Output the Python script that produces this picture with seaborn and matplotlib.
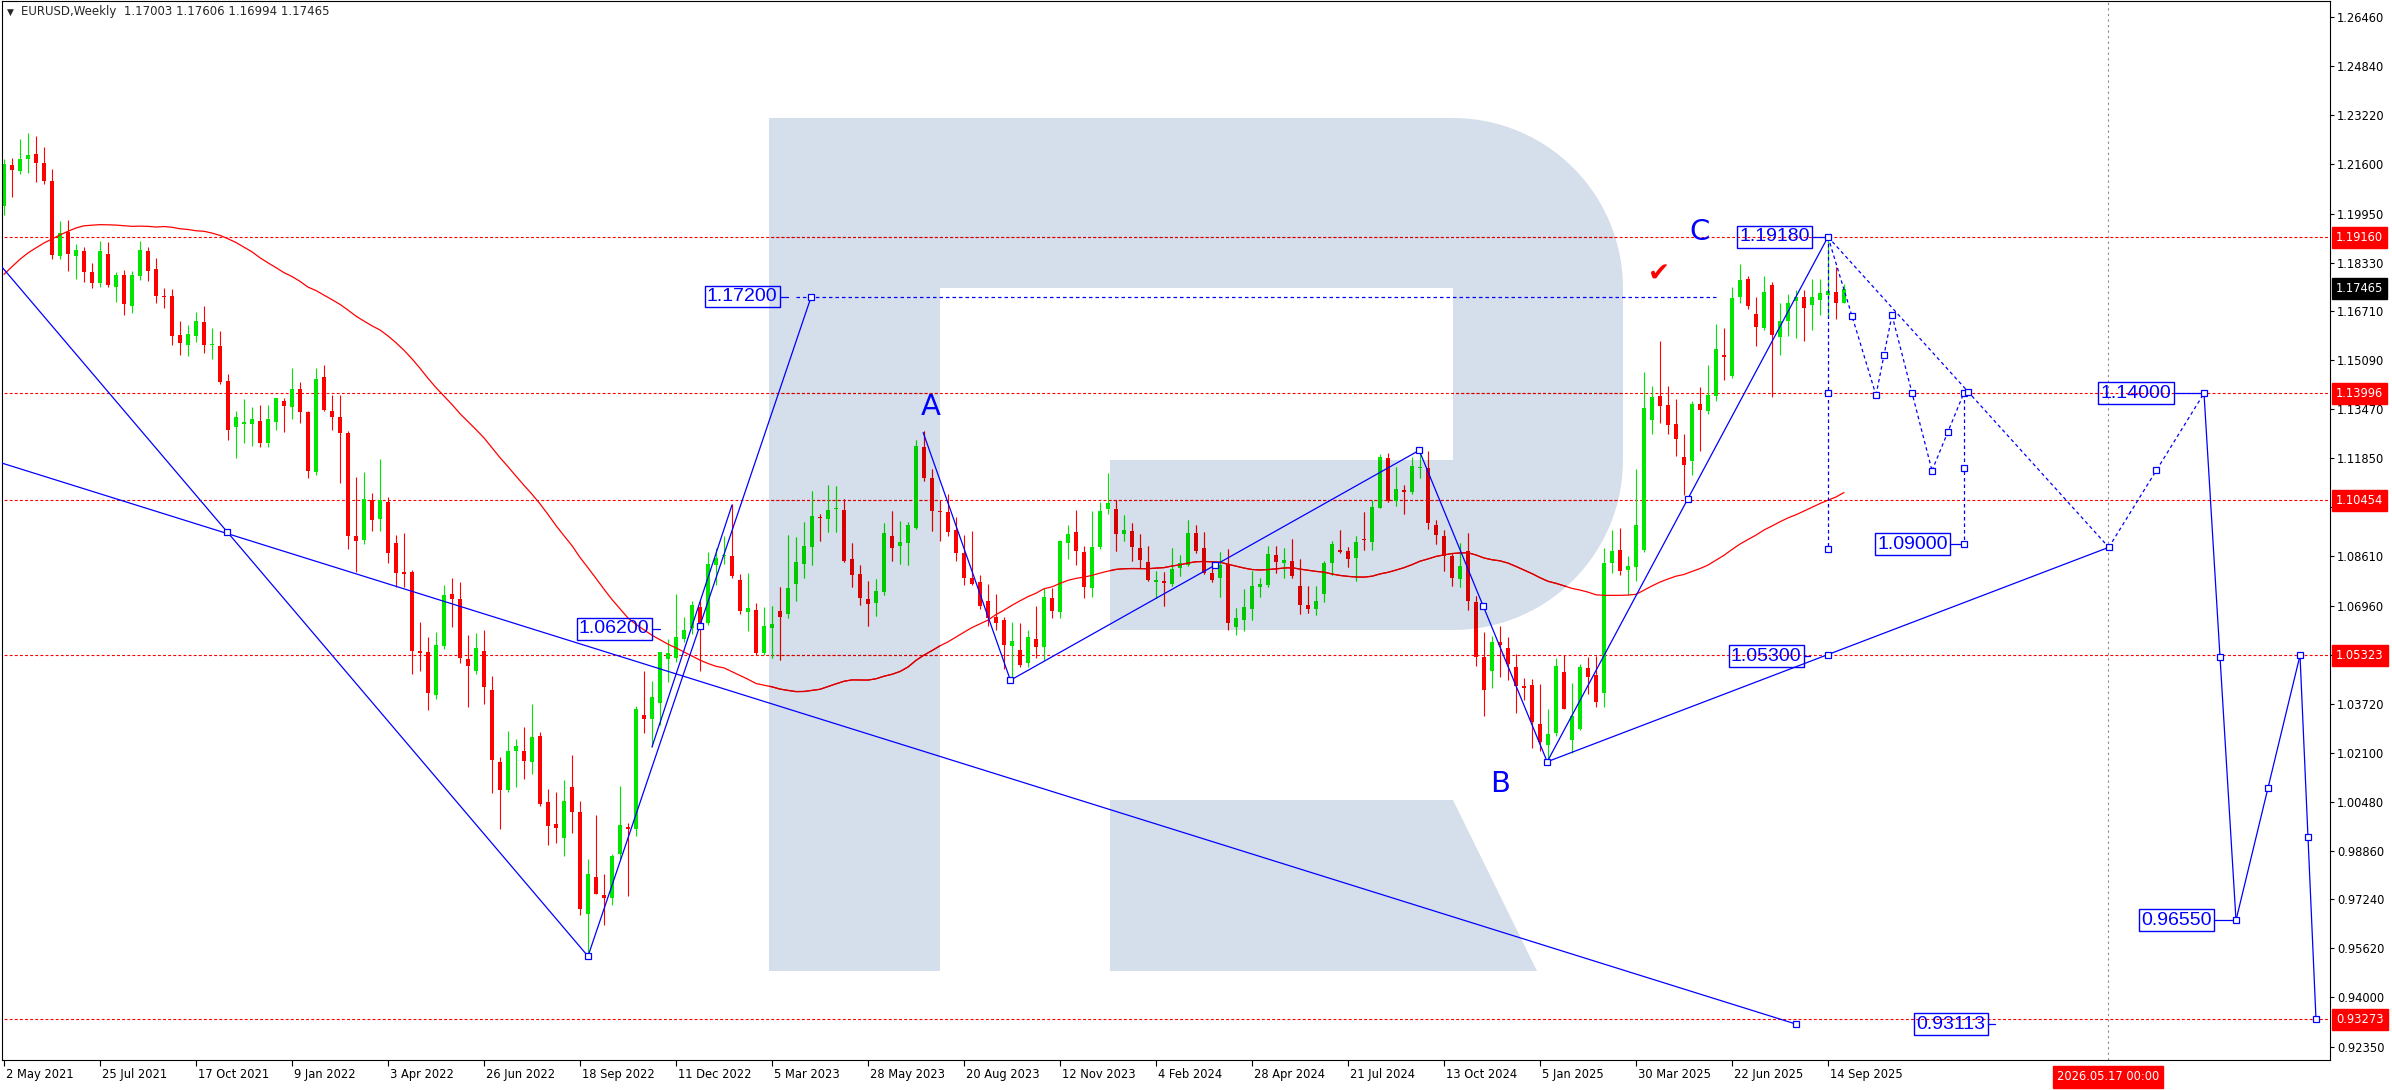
import numpy as np
import pandas as pd
import matplotlib
matplotlib.use('Agg')
import matplotlib.pyplot as plt
import matplotlib.transforms as mtrans
from matplotlib.path import Path
from matplotlib.patches import PathPatch
import seaborn as sns

# ---------------- data ----------------
# weekly EURUSD candles, week 0 = 2 May 2021
opens = [
    1.2020, 1.2155, 1.2135, 1.2175, 1.2192, 1.2162, 1.2103, 1.1855, 1.1935, 1.1855,
    1.1872, 1.1802, 1.1765, 1.1862, 1.1752, 1.1793, 1.1690, 1.1790, 1.1872, 1.1812,
    1.1722, 1.1723, 1.1592, 1.1559, 1.1590, 1.1636, 1.1559, 1.1557, 1.1441, 1.1287,
    1.1300, 1.1298, 1.1308, 1.1235, 1.1306, 1.1374, 1.1355, 1.1414, 1.1337, 1.1139,
    1.1455, 1.1341, 1.1322, 1.1268, 1.0928, 1.0915, 1.1048, 1.0984, 1.1041, 1.0904,
    1.0808, 1.0808, 1.0546, 1.0544, 1.0401, 1.0562, 1.0737, 1.0718, 1.0519, 1.0480,
    1.0548, 1.0419, 1.0179, 1.0086, 1.0215, 1.0215, 1.0179, 1.0264, 1.0047, 0.9973,
    0.9929, 1.0096, 1.0015, 0.9676, 0.9800, 0.9739, 0.9729, 0.9876, 0.9965, 0.9958,
    1.0336, 1.0322, 1.0375, 1.0520, 1.0522, 1.0586, 1.0622, 1.0691, 1.0640, 1.0832,
    1.0861, 1.0861, 1.0782, 1.0677, 1.0682, 1.0541, 1.0622, 1.0680, 1.0668, 1.0767,
    1.0836, 1.0892, 1.0990, 1.0985, 1.1017, 1.1014, 1.0850, 1.0802, 1.0718, 1.0705,
    1.0743, 1.0927, 1.0894, 1.0905, 1.0955, 1.1221, 1.1118, 1.1010, 1.1006, 1.0947,
    1.0870, 1.0790, 1.0774, 1.0712, 1.0658, 1.0649, 1.0563, 1.0550, 1.0506, 1.0588,
    1.0561, 1.0723, 1.0675, 1.0905, 1.0940, 1.0873, 1.0754, 1.0892, 1.1017, 1.1017,
    1.0934, 1.0944, 1.0889, 1.0841, 1.0776, 1.0779, 1.0770, 1.0823, 1.0832, 1.0938,
    1.0887, 1.0805, 1.0787, 1.0835, 1.0627, 1.0649, 1.0686, 1.0758, 1.0765, 1.0865,
    1.0839, 1.0845, 1.0762, 1.0699, 1.0685, 1.0737, 1.0838, 1.0881, 1.0878, 1.0853,
    1.0917, 1.0909, 1.1021, 1.1185, 1.1043, 1.1080, 1.1072, 1.1154, 1.1152, 1.0964,
    1.0929, 1.0861, 1.0785, 1.0878, 1.0710, 1.0528, 1.0479, 1.0577, 1.0557, 1.0495,
    1.0431, 1.0434, 1.0306, 1.0235, 1.0276, 1.0478, 1.0252, 1.0290, 1.0489, 1.0468,
    1.0406, 1.0837, 1.0881, 1.0816, 1.0826, 1.0881, 1.1312, 1.1391, 1.1360, 1.1298,
    1.1190, 1.1177, 1.1364, 1.1341, 1.1391, 1.1528, 1.1456, 1.1720, 1.1780, 1.1661,
    1.1617, 1.1757, 1.1586, 1.1641, 1.1705, 1.1720, 1.1692, 1.1710, 1.1727, 1.1736,
    1.17003]

highs = [
    1.2175, 1.2180, 1.2243, 1.2263, 1.2252, 1.2216, 1.2143, 1.1972, 1.1975, 1.1895,
    1.1885, 1.1830, 1.1905, 1.1900, 1.1800, 1.1808, 1.1805, 1.1905, 1.1885, 1.1848,
    1.1750, 1.1745, 1.1640, 1.1625, 1.1668, 1.1690, 1.1617, 1.1607, 1.1464, 1.1340,
    1.1382, 1.1355, 1.1360, 1.1360, 1.1386, 1.1386, 1.1484, 1.1437, 1.1343, 1.1484,
    1.1495, 1.1395, 1.1395, 1.1274, 1.1124, 1.1140, 1.1070, 1.1184, 1.1055, 1.0932,
    1.0936, 1.0815, 1.0644, 1.0594, 1.0608, 1.0765, 1.0789, 1.0774, 1.0601, 1.0606,
    1.0615, 1.0465, 1.0197, 1.0282, 1.0254, 1.0296, 1.0372, 1.0277, 1.0090, 1.0079,
    1.0118, 1.0203, 1.0051, 0.9857, 1.0005, 0.9809, 0.9874, 1.0100, 0.9976, 1.0364,
    1.0482, 1.0449, 1.0545, 1.0587, 1.0736, 1.0658, 1.0713, 1.0713, 1.0874, 1.0888,
    1.0929, 1.1034, 1.0801, 1.0804, 1.0706, 1.0692, 1.0695, 1.0760, 1.0930, 1.0925,
    1.0973, 1.1075, 1.1000, 1.1095, 1.1092, 1.1050, 1.0903, 1.0830, 1.0779, 1.0785,
    1.0970, 1.1010, 1.0976, 1.0975, 1.1245, 1.1276, 1.1149, 1.1046, 1.1065, 1.0990,
    1.0930, 1.0945, 1.0800, 1.0769, 1.0737, 1.0659, 1.0642, 1.0640, 1.0617, 1.0695,
    1.0756, 1.0756, 1.0915, 1.0965, 1.1013, 1.0894, 1.1009, 1.1040, 1.1135, 1.1046,
    1.0998, 1.0970, 1.0933, 1.0895, 1.0810, 1.0807, 1.0888, 1.0866, 1.0981, 1.0964,
    1.0942, 1.0843, 1.0876, 1.0885, 1.0690, 1.0753, 1.0812, 1.0790, 1.0895, 1.0895,
    1.0889, 1.0916, 1.0852, 1.0761, 1.0761, 1.0845, 1.0910, 1.0948, 1.0890, 1.0926,
    1.1008, 1.1047, 1.1200, 1.1202, 1.1155, 1.1095, 1.1190, 1.1212, 1.1209, 1.0980,
    1.0946, 1.0870, 1.0905, 1.0937, 1.0728, 1.0610, 1.0597, 1.0630, 1.0594, 1.0536,
    1.0457, 1.0455, 1.0437, 1.0354, 1.0522, 1.0533, 1.0442, 1.0505, 1.0528, 1.0529,
    1.0889, 1.0947, 1.0955, 1.0860, 1.1148, 1.1471, 1.1425, 1.1573, 1.1425, 1.1380,
    1.1265, 1.1375, 1.1420, 1.1495, 1.1631, 1.1615, 1.1753, 1.1829, 1.1790, 1.1720,
    1.1789, 1.1770, 1.1700, 1.1730, 1.1742, 1.1743, 1.1780, 1.1780, 1.1918, 1.1819,
    1.17606]

lows = [
    1.1990, 1.2050, 1.2125, 1.2130, 1.2100, 1.2092, 1.1845, 1.1845, 1.1805, 1.1780,
    1.1768, 1.1750, 1.1752, 1.1752, 1.1702, 1.1660, 1.1665, 1.1775, 1.1772, 1.1700,
    1.1682, 1.1560, 1.1527, 1.1525, 1.1570, 1.1535, 1.1513, 1.1432, 1.1245, 1.1185,
    1.1235, 1.1226, 1.1222, 1.1222, 1.1280, 1.1272, 1.1314, 1.1301, 1.1118, 1.1130,
    1.1340, 1.1280, 1.1104, 1.0886, 1.0807, 1.0900, 1.0944, 1.0944, 1.0837, 1.0758,
    1.0760, 1.0472, 1.0482, 1.0351, 1.0388, 1.0552, 1.0625, 1.0507, 1.0361, 1.0470,
    1.0372, 1.0076, 0.9958, 1.0080, 1.0097, 1.0123, 1.0141, 1.0034, 0.9904, 0.9910,
    0.9867, 0.9944, 0.9671, 0.9536, 0.9741, 0.9638, 0.9705, 0.9858, 0.9736, 0.9935,
    1.0275, 1.0229, 1.0301, 1.0443, 1.0510, 1.0576, 1.0603, 1.0482, 1.0634, 1.0766,
    1.0834, 1.0790, 1.0669, 1.0613, 1.0533, 1.0533, 1.0525, 1.0516, 1.0655, 1.0712,
    1.0788, 1.0831, 1.0910, 1.0942, 1.0942, 1.0840, 1.0760, 1.0700, 1.0631, 1.0662,
    1.0733, 1.0845, 1.0835, 1.0833, 1.0952, 1.1110, 1.0943, 1.0912, 1.0927, 1.0845,
    1.0765, 1.0765, 1.0686, 1.0631, 1.0616, 1.0488, 1.0448, 1.0495, 1.0495, 1.0523,
    1.0516, 1.0655, 1.0656, 1.0852, 1.0830, 1.0723, 1.0725, 1.0885, 1.1000, 1.0877,
    1.0910, 1.0844, 1.0820, 1.0778, 1.0723, 1.0695, 1.0762, 1.0796, 1.0828, 1.0872,
    1.0802, 1.0776, 1.0724, 1.0616, 1.0601, 1.0612, 1.0650, 1.0724, 1.0760, 1.0805,
    1.0788, 1.0790, 1.0668, 1.0672, 1.0666, 1.0710, 1.0797, 1.0870, 1.0825, 1.0777,
    1.0880, 1.0880, 1.1020, 1.1040, 1.1026, 1.1001, 1.1068, 1.1120, 1.0952, 1.0900,
    1.0811, 1.0761, 1.0760, 1.0682, 1.0496, 1.0332, 1.0425, 1.0460, 1.0452, 1.0343,
    1.0385, 1.0226, 1.0214, 1.0177, 1.0265, 1.0355, 1.0210, 1.0285, 1.0405, 1.0360,
    1.0360, 1.0806, 1.0797, 1.0733, 1.0778, 1.0875, 1.1265, 1.1303, 1.1265, 1.1194,
    1.1063, 1.1130, 1.1210, 1.1330, 1.1375, 1.1445, 1.1450, 1.1700, 1.1678, 1.1556,
    1.1610, 1.1389, 1.1528, 1.1590, 1.1583, 1.1574, 1.1608, 1.1660, 1.1650, 1.1645,
    1.16994]

closes = [
    1.2160, 1.2138, 1.2175, 1.2190, 1.2162, 1.2104, 1.1857, 1.1932, 1.1860, 1.1875,
    1.1800, 1.1765, 1.1870, 1.1758, 1.1793, 1.1696, 1.1793, 1.1876, 1.1805, 1.1722,
    1.1719, 1.1590, 1.1567, 1.1596, 1.1638, 1.1559, 1.1560, 1.1439, 1.1279, 1.1322,
    1.1306, 1.1315, 1.1235, 1.1316, 1.1384, 1.1358, 1.1414, 1.1337, 1.1144, 1.1449,
    1.1345, 1.1322, 1.1268, 1.0928, 1.0912, 1.1049, 1.0980, 1.1047, 1.0872, 1.0805,
    1.0801, 1.0546, 1.0541, 1.0408, 1.0565, 1.0731, 1.0720, 1.0522, 1.0497, 1.0555,
    1.0429, 1.0186, 1.0086, 1.0215, 1.0232, 1.0182, 1.0262, 1.0039, 0.9967, 0.9962,
    1.0050, 1.0015, 0.9693, 0.9807, 0.9743, 0.9729, 0.9867, 0.9972, 0.9958, 1.0355,
    1.0322, 1.0396, 1.0544, 1.0540, 1.0594, 1.0615, 1.0698, 1.0640, 1.0834, 1.0855,
    1.0865, 1.0794, 1.0679, 1.0690, 1.0541, 1.0629, 1.0635, 1.0660, 1.0754, 1.0841,
    1.0894, 1.0994, 1.0986, 1.1014, 1.1019, 1.0845, 1.0799, 1.0721, 1.0701, 1.0745,
    1.0936, 1.0889, 1.0907, 1.0963, 1.1227, 1.1121, 1.1011, 1.1006, 1.0942, 1.0870,
    1.0790, 1.0767, 1.0697, 1.0657, 1.0640, 1.0566, 1.0580, 1.0500, 1.0594, 1.0561,
    1.0727, 1.0679, 1.0911, 1.0934, 1.0878, 1.0757, 1.0892, 1.1010, 1.1036, 1.0934,
    1.0947, 1.0892, 1.0848, 1.0782, 1.0782, 1.0773, 1.0818, 1.0839, 1.0938, 1.0879,
    1.0804, 1.0782, 1.0832, 1.0638, 1.0655, 1.0692, 1.0762, 1.0769, 1.0867, 1.0842,
    1.0848, 1.0796, 1.0700, 1.0687, 1.0712, 1.0838, 1.0901, 1.0875, 1.0850, 1.0906,
    1.0913, 1.1024, 1.1188, 1.1044, 1.1083, 1.1072, 1.1159, 1.1157, 1.0972, 1.0931,
    1.0862, 1.0790, 1.0829, 1.0713, 1.0528, 1.0418, 1.0577, 1.0568, 1.0502, 1.0431,
    1.0424, 1.0311, 1.0246, 1.0273, 1.0498, 1.0355, 1.0331, 1.0493, 1.0461, 1.0379,
    1.0837, 1.0878, 1.0812, 1.0827, 1.0963, 1.1350, 1.1389, 1.1357, 1.1296, 1.1248,
    1.1161, 1.1364, 1.1346, 1.1395, 1.1546, 1.1521, 1.1717, 1.1775, 1.1688, 1.1620,
    1.1736, 1.1592, 1.1641, 1.1699, 1.1720, 1.1683, 1.1720, 1.1731, 1.1738, 1.1700,
    1.17465]

# closes of the 51 weeks before the first visible bar (feed the 52-week MA)
prior_closes = [
    1.0820, 1.0900, 1.1100, 1.1290, 1.1255, 1.1180, 1.1220, 1.1245,
    1.1300, 1.1430, 1.1655, 1.1780, 1.1785, 1.1840, 1.1800, 1.1905, 1.1840,
    1.1845, 1.1840, 1.1630, 1.1715, 1.1825, 1.1720, 1.1860, 1.1645,
    1.1875, 1.1835, 1.1860, 1.1965, 1.2120, 1.2110, 1.2255, 1.2185, 1.2215,
    1.2220, 1.2080, 1.2170, 1.2135, 1.2045, 1.2120, 1.2115, 1.2075,
    1.1915, 1.1950, 1.1905, 1.1795, 1.1760, 1.1900, 1.1980, 1.2095, 1.2020]
ma_period = 52

# horizontal levels and right-axis tags
level_prices = [1.19160, 1.13996, 1.10454, 1.05323, 0.93273]
last_price = 1.17465
price_ticks = [1.26460, 1.24840, 1.23220, 1.21600, 1.19950, 1.18330, 1.16710,
               1.15090, 1.13470, 1.11850, 1.10230, 1.08610, 1.06960, 1.05340,
               1.03720, 1.02100, 1.00480, 0.98860, 0.97240, 0.95620, 0.94000,
               0.92350]
date_tick_weeks = list(range(0, 229, 12))
date_tick_labels = ['2 May 2021', '25 Jul 2021', '17 Oct 2021', '9 Jan 2022',
                    '3 Apr 2022', '26 Jun 2022', '18 Sep 2022', '11 Dec 2022',
                    '5 Mar 2023', '28 May 2023', '20 Aug 2023', '12 Nov 2023',
                    '4 Feb 2024', '28 Apr 2024', '21 Jul 2024', '13 Oct 2024',
                    '5 Jan 2025', '30 Mar 2025', '22 Jun 2025', '14 Sep 2025']
cursor_week = 263
cursor_label = '2026.05.17 00:00'
title = 'EURUSD,Weekly  1.17003 1.17606 1.16994 1.17465'

# wave analysis: (week, price) pairs, last item = handle marks ('m' mid, 'e' end)
solid_segments = [
    ((-17.2, 1.2346), (73.0, 0.9536), 'me'),
    ((-1.0, 1.1175), (224.0, 0.93113), 'e'),
    ((73.0, 0.9536), (100.9, 1.1720), 'me'),
    ((81.0, 1.0229), (91.0, 1.1030), ''),
    ((114.9, 1.1270), (125.8, 1.0450), 'e'),
    ((125.8, 1.0450), (176.9, 1.1211), 'me'),
    ((176.9, 1.1211), (192.9, 1.0180), 'me'),
    ((192.9, 1.0180), (228.0, 1.1918), 'me'),
    ((192.9, 1.0180), (263.1, 1.0890), 'me'),
    ((275.0, 1.1400), (279.0, 0.9655), 'me'),
    ((279.0, 0.9655), (287.0, 1.0532), 'me'),
    ((287.0, 1.0532), (289.0, 0.9327), 'me'),
]
dashed_segments = [
    ((228.0, 1.1918), (228.0, 1.0885), 'me'),
    ((228.0, 1.1918), (234.0, 1.1394), 'me'),
    ((234.0, 1.1394), (236.0, 1.1659), 'me'),
    ((236.0, 1.1659), (241.0, 1.1144), 'me'),
    ((241.0, 1.1144), (245.0, 1.1402), 'me'),
    ((245.0, 1.1402), (245.0, 1.0900), 'me'),
    ((228.0, 1.1918), (263.1, 1.0890), 'm'),
    ((263.1, 1.0890), (275.0, 1.1400), 'me'),
]
target_1172 = ((99.0, 1.1720), (214.0, 1.1720))

# price tags: text, week of box right edge, price, week where the lead ends
price_tags = [('1.17200', 96.7, 1.1720, 98.0),
              ('1.06200', 80.7, 1.0620, 82.0),
              ('1.19180', 225.7, 1.1918, 228.0),
              ('1.05300', 224.7, 1.0530, 225.8),
              ('1.09000', 243.0, 1.0900, 245.0),
              ('1.14000', 270.9, 1.1400, 275.0),
              ('0.96550', 276.0, 0.9655, 279.0),
              ('0.93113', 247.7, 0.93113, 248.9)]
wave_letters = [('A', 115.8, 1.1356), ('B', 187.0, 1.0106), ('C', 211.9, 1.1934)]
check_mark = (206.9, 1.1792)

# ---------------- figure ----------------
sns.set_style('white')
plt.rcParams['font.family'] = ['DejaVu Sans']

W, H = 2392, 1090
fig = plt.figure(figsize=(W / 100, H / 100), dpi=100)
fig.patch.set_facecolor('white')
ax = fig.add_axes([2 / W, (H - 1060) / H, 2328 / W, 1059 / H])
ax.set_facecolor('white')
ax.set_xlim(-0.25, 290.75)
ax.set_ylim(0.91924, 1.26990)

BLUE = '#0000ff'
RED = '#ff0000'
GREEN = '#00e600'
LOGO = '#d5dfeb'
# colours as they look under the (multiplied) watermark
RED_D = '#d50000'
GREEN_D = '#00c900'

# watermark "R", in image pixels
pix = mtrans.Affine2D().scale(1 / W, -1 / H).translate(0, 1) + fig.transFigure


def arc(cx, cy, r, a0, a1, n=30):
    t = np.radians(np.linspace(a0, a1, n))
    return list(zip(cx + r * np.cos(t), cy + r * np.sin(t)))


body = ([(769, 118), (1453, 118)] + arc(1453, 288, 170, -90, 0) + [(1623, 460)]
        + arc(1453, 460, 170, 0, 90)
        + [(1110, 630), (1110, 460), (1453, 460), (1453, 288), (940, 288),
           (940, 971), (769, 971)])
leg = [(1110, 800), (1453, 800), (1537, 971), (1110, 971)]
verts, codes = [], []
for poly in (body, leg):
    verts += poly + [poly[0]]
    codes += [Path.MOVETO] + [Path.LINETO] * (len(poly) - 1) + [Path.CLOSEPOLY]
logo = PathPatch(Path(verts, codes), transform=pix, facecolor=LOGO,
                 edgecolor='none', zorder=0.5)
ax.add_patch(logo)

# horizontal levels
lvl = ax.hlines(level_prices, -1, 292, colors=RED, lw=0.8,
                linestyles=(0, (2.6, 2.0)), zorder=1.5)
lvl_d = ax.hlines(level_prices, -1, 292, colors=RED_D, lw=0.8,
                  linestyles=(0, (2.6, 2.0)), zorder=1.55)
lvl_d.set_clip_path(logo)
ax.axvline(cursor_week, color='#8a8a8a', lw=0.8, ls=(0, (2, 3)), zorder=1.5)

# candles
o = np.array(opens)
hi = np.array(highs)
lo = np.array(lows)
c = np.array(closes)
weeks = np.arange(len(c))
up = c >= o
bottoms = np.minimum(o, c)
heights = np.maximum(np.abs(c - o), 0.00035)


def draw_candles(col_up, col_dn, z, clip=None):
    cols = [col_up if u else col_dn for u in up]
    wk = ax.vlines(weeks, lo, hi, colors=cols, lw=0.8, zorder=z)
    bars = ax.bar(weeks, heights, bottom=bottoms, width=0.62, color=cols,
                  linewidth=0, zorder=z + 0.01)
    if clip is not None:
        wk.set_clip_path(clip)
        for b in bars:
            b.set_clip_path(clip)


draw_candles(GREEN, RED, 2.0)
draw_candles(GREEN_D, RED_D, 2.1, clip=logo)

# 52-week moving average
ma = pd.Series(prior_closes + closes).rolling(ma_period).mean().iloc[len(prior_closes):]
ma_df = pd.DataFrame({'week': weeks, 'ma': ma.values})
sns.lineplot(data=ma_df, x='week', y='ma', ax=ax, color=RED, linewidth=0.9,
             zorder=3)
ma_dark, = ax.plot(ma_df['week'], ma_df['ma'], color=RED_D, lw=0.9, zorder=3.05)
ma_dark.set_clip_path(logo)

# wave lines and handles
handles = []
for segs, ls in ((solid_segments, '-'), (dashed_segments, (0, (2.8, 2.4)))):
    for p0, p1, marks in segs:
        ax.plot([p0[0], p1[0]], [p0[1], p1[1]], color=BLUE, lw=0.9, ls=ls,
                zorder=4)
        if 'm' in marks:
            handles.append(((p0[0] + p1[0]) / 2, (p0[1] + p1[1]) / 2))
        if 'e' in marks:
            handles.append(p1)
ax.plot([target_1172[0][0], target_1172[1][0]],
        [target_1172[0][1], target_1172[1][1]],
        color=BLUE, lw=0.9, ls=(0, (2.8, 2.4)), zorder=4)
hx, hy = zip(*handles)
ax.plot(hx, hy, ls='none', marker='s', ms=4.2, mfc='white', mec=BLUE, mew=0.9,
        zorder=6)

# price tags
for txt, wr, pr, wend in price_tags:
    ax.text(wr, pr, txt, ha='right', va='center', fontsize=14,
            family=['Liberation Sans', 'DejaVu Sans'], color=BLUE, zorder=5,
            bbox=dict(boxstyle='square,pad=0.12', fc='none', ec=BLUE, lw=1.0))
    ax.plot([wr + 0.3, wend], [pr, pr], color=BLUE, lw=0.9, zorder=5)

for txt, wx, pr in wave_letters:
    ax.text(wx, pr, txt, ha='center', va='center', fontsize=21, color=BLUE,
            zorder=5)
ax.text(check_mark[0], check_mark[1], '\u2714', ha='center', va='center',
        fontsize=19, color=RED, zorder=5)

# axes, ticks
for s in ax.spines.values():
    s.set_color('black')
    s.set_linewidth(0.8)
ax.yaxis.tick_right()
ax.set_yticks(price_ticks)
ax.set_yticklabels([f'{v:.5f}' for v in price_ticks])
ax.tick_params(axis='y', direction='out', length=3, width=0.8, pad=2,
               labelsize=8.3, colors='black', right=True, left=False)
ax.set_xticks(date_tick_weeks)
ax.set_xticklabels(date_tick_labels, ha='left')
ax.tick_params(axis='x', direction='out', length=4, width=0.8, pad=2,
               labelsize=8.3, colors='black', bottom=True)
shift = mtrans.ScaledTranslation(2 / 100, 0, fig.dpi_scale_trans)
for lab in ax.get_xticklabels():
    lab.set_transform(lab.get_transform() + shift)
ax.set_xlabel('')
ax.set_ylabel('')

# right-axis price tags
yside = mtrans.blended_transform_factory(ax.transAxes, ax.transData)
for pr in level_prices:
    ax.text(1 + 6 / 2328, pr, f'{pr:.5f}', transform=yside, ha='left',
            va='center', fontsize=8.3, color='white', zorder=7, clip_on=False,
            bbox=dict(boxstyle='square,pad=0.35', fc=RED, ec=RED))
ax.text(1 + 6 / 2328, last_price, f'{last_price:.5f}', transform=yside,
        ha='left', va='center', fontsize=8.3, color='white', zorder=7,
        clip_on=False, bbox=dict(boxstyle='square,pad=0.35', fc='black',
                                 ec='black'))

xside = mtrans.blended_transform_factory(ax.transData, ax.transAxes)
ax.text(cursor_week, -17 / 1059, cursor_label, transform=xside, ha='center',
        va='center', fontsize=8.3, color='white', zorder=7, clip_on=False,
        bbox=dict(boxstyle='square,pad=0.35', fc=RED, ec=RED))

fig.text(7 / W, 1 - 12 / H, '\u25bc', fontsize=6.5, va='center', ha='left')
fig.text(21 / W, 1 - 12 / H, title, fontsize=8.5, va='center', ha='left')

fig.savefig('out.png', dpi=100, facecolor='white')
